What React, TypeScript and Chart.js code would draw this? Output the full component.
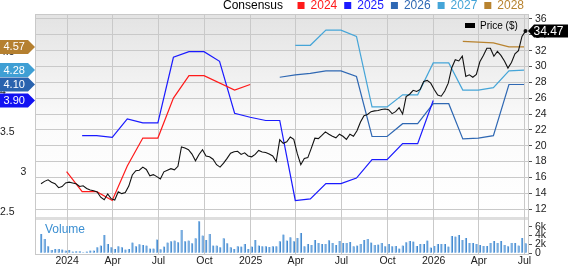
import React, { useEffect, useRef } from 'react';
import { Chart, registerables } from 'chart.js';

Chart.register(...registerables);

const FONT = '"Liberation Sans", Arial, Helvetica, sans-serif';

// ---------- axes ----------
const xRange = ['2023-10-29', '2026-07-08'];
const xTickDates = ['2024-01-01', '2024-04-01', '2024-07-01', '2024-10-01', '2025-01-01', '2025-04-01', '2025-07-01', '2025-10-01', '2026-01-01', '2026-04-01', '2026-07-01'];
const xTickLabels = ['2024', 'Apr', 'Jul', 'Oct', '2025', 'Apr', 'Jul', 'Oct', '2026', 'Apr', 'Jul'];
const priceTicks = [12, 14, 16, 18, 20, 22, 24, 26, 28, 30, 32, 34, 36];
const epsTicks = [2.5, 3, 3.5, 4, 4.5];
const volTicks = [0, 2, 4, 6];
const volTickLabels = ['0', '2k', '4k', '6k'];

// ---------- consensus EPS series ----------
const legendYears = ['2024', '2025', '2026', '2027', '2028'];
const epsColors = ['#ff1a1a', '#1a1aff', '#2f68b3', '#45a5d8', '#b8832f'];
const tagColors = ['#ff1a1a', '#1212f2', '#2a63ae', '#3f9fd4', '#b58030'];

const eps2024Dates = ['2023-12-31', '2024-01-31', '2024-02-29', '2024-03-31', '2024-04-30', '2024-05-31', '2024-06-30', '2024-07-31', '2024-08-31', '2024-09-30', '2024-11-30', '2024-12-31'];
const eps2024 = [3.01, 2.76, 2.76, 2.65, 3.08, 3.43, 3.43, 3.93, 4.21, 4.21, 4.03, 4.10];

const eps2025Dates = ['2024-01-31', '2024-02-29', '2024-03-31', '2024-04-30', '2024-05-31', '2024-06-30', '2024-07-31', '2024-08-31', '2024-09-30', '2024-10-31', '2024-11-30', '2024-12-31', '2025-01-31', '2025-02-28', '2025-03-31', '2025-04-30', '2025-05-31', '2025-06-30', '2025-07-31', '2025-08-31', '2025-09-30', '2025-10-31', '2025-11-30', '2025-12-31'];
const eps2025 = [3.46, 3.46, 3.44, 3.67, 3.62, 3.62, 4.44, 4.51, 4.51, 4.39, 3.74, 3.69, 3.65, 3.65, 2.65, 2.67, 2.86, 2.86, 2.93, 3.16, 3.16, 3.36, 3.36, 3.90];

const eps2026Dates = ['2025-02-28', '2025-03-31', '2025-04-30', '2025-05-31', '2025-06-30', '2025-07-31', '2025-08-31', '2025-09-30', '2025-10-31', '2025-11-30', '2025-12-31', '2026-01-31', '2026-02-28', '2026-03-31', '2026-04-30', '2026-05-31', '2026-06-30'];
const eps2026 = [4.19, 4.22, 4.24, 4.27, 4.27, 4.20, 3.45, 3.45, 3.61, 3.61, 3.86, 3.86, 3.42, 3.43, 3.46, 4.10, 4.10];

const eps2027Dates = ['2025-03-31', '2025-04-30', '2025-05-31', '2025-06-30', '2025-07-31', '2025-08-31', '2025-09-30', '2025-10-31', '2025-11-30', '2025-12-31', '2026-01-31', '2026-02-28', '2026-03-31', '2026-04-30', '2026-05-31', '2026-06-30'];
const eps2027 = [4.59, 4.59, 4.78, 4.78, 4.70, 3.82, 3.82, 3.97, 3.97, 4.37, 4.37, 4.03, 4.03, 4.06, 4.27, 4.28];

const eps2028Dates = ['2026-02-28', '2026-03-31', '2026-04-30', '2026-05-31', '2026-06-30'];
const eps2028 = [4.64, 4.63, 4.62, 4.57, 4.57];

// ---------- weekly price ($) and volume (thousands) ----------
const priceStart = '2023-11-10';
const price = [
  15.2, 15.5, 15.7, 15.38, 15.2, 14.7, 14.85, 15.3, 15.4, 15.3,
  15.2, 14.85, 14.95, 14.6, 14.42, 14.32, 14.15, 13.5, 13.18, 13.9,
  13.3, 13.15, 14.2, 13.95, 14.1, 14.9, 16.3, 16.85, 16.9, 17.3,
  17.0, 16.2, 16.35, 16.1, 15.8, 16.7, 16.9, 17.1, 16.95, 17.4,
  19.85, 19.7, 19.5, 18.95, 18.1, 18.9, 19.5, 18.7, 18.6, 18.3,
  17.6, 17.3, 17.8, 18.4, 19.05, 19.25, 19.3, 18.9, 19.1, 18.7,
  18.6, 18.9, 19.4, 19.2, 19.15, 18.95, 18.7, 18.0, 20.75, 20.3,
  20.5, 21.1, 20.8, 19.0, 17.6, 18.4, 18.5, 19.7, 20.95, 20.9,
  21.3, 21.75, 21.45, 21.2, 21.0, 21.45, 21.2, 20.8, 21.45, 21.2,
  21.9, 23.0, 23.8, 23.95, 24.3, 24.4, 24.45, 24.58, 24.64, 24.55,
  24.05, 24.3, 24.8, 24.0, 26.2, 26.5, 27.0, 26.85, 27.1, 28.1,
  28.25, 27.9, 27.1, 26.4, 26.25, 26.9, 27.9, 29.85, 30.85, 30.7,
  31.3, 28.75, 28.95, 28.65, 29.0, 30.6, 31.4, 32.3, 32.3, 31.3,
  31.9, 31.4, 30.7, 29.8, 30.5, 31.6, 32.0, 33.8, 34.47,
];
const volume = [
  4.35, 3.23, 1.58, 0.75, 0.98, 0.98, 0.83, 0.6, 0.75, 0.38,
  0.45, 0.45, 0.23, 0.38, 0.6, 0.6, 1.35, 1.73, 4.13, 2.1,
  1.35, 0.98, 1.58, 1.35, 0.83, 0.98, 2.4, 1.58, 2.03, 1.88,
  1.73, 1.05, 1.05, 3.08, 0.9, 1.5, 2.4, 2.7, 2.85, 2.48,
  5.25, 2.7, 2.85, 2.25, 3.38, 7.2, 3.98, 3.0, 4.35, 1.73,
  1.73, 1.35, 3.38, 2.25, 1.35, 0.98, 1.58, 1.5, 2.1, 0.98,
  1.5, 3.0, 1.73, 1.58, 1.58, 1.43, 1.58, 1.58, 2.7, 4.2,
  2.85, 3.6, 2.7, 3.45, 4.58, 1.58, 2.1, 1.88, 3.0, 2.33,
  2.1, 2.1, 2.93, 2.33, 1.88, 2.78, 2.33, 2.33, 2.55, 1.58,
  1.73, 2.1, 3.0, 3.23, 2.4, 1.88, 1.95, 2.33, 1.58, 2.1,
  1.58, 1.65, 1.05, 1.73, 2.48, 2.78, 2.63, 1.65, 2.1, 2.1,
  2.85, 1.28, 1.65, 2.1, 2.1, 2.1, 1.5, 3.9, 3.75, 4.13,
  3.0, 3.45, 2.33, 2.33, 2.1, 1.88, 1.65, 1.65, 2.33, 2.78,
  2.33, 2.78, 1.88, 1.58, 2.33, 2.33, 1.73, 3.45, 2.25,
];

// ---------- helpers ----------
const DAY0 = Date.UTC(2024, 0, 1);
const toDay = (s: string) => {
  const [y, m, d] = s.split('-').map(Number);
  return (Date.UTC(y, m - 1, d) - DAY0) / 86400000;
};
const pts = (dates: string[], vals: number[]) => vals.map((v, i) => ({ x: toDay(dates[i]), y: v }));
const weekDays = price.map((_, i) => toDay(priceStart) + 7 * i);

const epsSeries = [
  { label: '2024', dates: eps2024Dates, vals: eps2024 },
  { label: '2025', dates: eps2025Dates, vals: eps2025 },
  { label: '2026', dates: eps2026Dates, vals: eps2026 },
  { label: '2027', dates: eps2027Dates, vals: eps2027 },
  { label: '2028', dates: eps2028Dates, vals: eps2028 },
];

const GRID = '#c9c9c9';
const VOL_PANEL = 37; // px height of volume panel incl. separator

const panelPlugin = {
  id: 'zpanels',
  beforeDraw(chart: any) {
    const { ctx, chartArea: a } = chart;
    const mainBottom = a.bottom - VOL_PANEL;
    ctx.save();
    ctx.fillStyle = '#ffffff';
    ctx.fillRect(a.left, a.top, a.right - a.left, a.bottom - a.top);
    const g = ctx.createLinearGradient(0, a.top, 0, mainBottom);
    g.addColorStop(0, '#e3e3e3');
    g.addColorStop(0.55, '#fbfbfb');
    g.addColorStop(1, '#ffffff');
    ctx.fillStyle = g;
    ctx.fillRect(a.left, a.top, a.right - a.left, mainBottom - a.top);
    ctx.fillStyle = '#dedede';
    ctx.fillRect(a.left, mainBottom, a.right - a.left, 3);
    ctx.restore();
  },
  afterDraw(chart: any) {
    const { ctx, chartArea: a, scales } = chart;
    ctx.save();
    // top border
    ctx.strokeStyle = GRID;
    ctx.lineWidth = 1;
    ctx.beginPath();
    ctx.moveTo(a.left, a.top + 0.5);
    ctx.lineTo(a.right, a.top + 0.5);
    ctx.stroke();

    // volume axis labels
    ctx.textBaseline = 'middle';
    ctx.textAlign = 'left';
    ctx.font = `10.5px ${FONT}`;
    ctx.fillStyle = '#222';
    volTicks.forEach((v, i) => {
      ctx.fillText(volTickLabels[i], a.right + 7, scales.yVol.getPixelForValue(v));
    });

    // consensus legend
    ctx.font = `12px ${FONT}`;
    let x = 223;
    const ly = 5.5;
    ctx.fillStyle = '#000';
    ctx.fillText('Consensus', x, ly);
    x += ctx.measureText('Consensus').width + 14.5;
    legendYears.forEach((yr, i) => {
      ctx.fillStyle = epsColors[i];
      ctx.fillRect(x, 2, 7, 7);
      x += 13;
      ctx.fillText(yr, x, ly);
      x += ctx.measureText(yr).width + 7;
    });

    // price legend
    ctx.fillStyle = '#000';
    ctx.fillRect(465, 23, 10, 5);
    ctx.font = `10px ${FONT}`;
    ctx.fillText('Price ($)', 480, 26);

    // volume label
    ctx.font = `12px ${FONT}`;
    ctx.fillStyle = '#3b8fd2';
    ctx.fillText('Volume', 45, 229.5);

    // left EPS tags (latest value of each series)
    const yE = scales.yEps;
    const tags = epsSeries
      .map((s, i) => ({ v: s.vals[s.vals.length - 1], c: tagColors[i], end: toDay(s.dates[s.dates.length - 1]) }))
      .filter((t) => t.end > toDay('2025-06-01'))
      .map((t) => ({ ...t, y: yE.getPixelForValue(t.v) }))
      .sort((p, q) => p.y - q.y);
    const H = 14;
    for (let i = 1; i < tags.length; i++) {
      if (tags[i].y - tags[i - 1].y < H + 0.5) tags[i].y = tags[i - 1].y + H + 0.5;
    }
    ctx.font = `11px ${FONT}`;
    tags.forEach((t) => {
      ctx.fillStyle = t.c;
      ctx.beginPath();
      ctx.moveTo(0, t.y - H / 2);
      ctx.lineTo(28, t.y - H / 2);
      ctx.lineTo(35, t.y);
      ctx.lineTo(28, t.y + H / 2);
      ctx.lineTo(0, t.y + H / 2);
      ctx.closePath();
      ctx.fill();
      ctx.fillStyle = '#fff';
      ctx.fillText(t.v.toFixed(2), 3.5, t.y + 0.5);
    });

    // right price tag
    const last = price[price.length - 1];
    const py = scales.yPrice.getPixelForValue(last);
    ctx.fillStyle = '#000';
    ctx.beginPath();
    ctx.moveTo(a.right, py);
    ctx.lineTo(a.right + 6, py - 6.5);
    ctx.lineTo(568, py - 6.5);
    ctx.lineTo(568, py + 6.5);
    ctx.lineTo(a.right + 6, py + 6.5);
    ctx.closePath();
    ctx.fill();
    ctx.fillStyle = '#fff';
    ctx.font = `12px ${FONT}`;
    ctx.fillText(last.toFixed(2), 533.5, py + 0.5);
    ctx.restore();
  },
};

export default function App() {
  const ref = useRef<HTMLCanvasElement>(null);

  useEffect(() => {
    const canvas = ref.current;
    if (!canvas) return;
    Chart.defaults.font.family = FONT;
    Chart.defaults.color = '#222';

    const lineDs = (s: { label: string; dates: string[]; vals: number[] }, i: number) => ({
      type: 'line' as const,
      label: s.label,
      data: pts(s.dates, s.vals),
      yAxisID: 'yEps',
      borderColor: epsColors[i],
      borderWidth: 1.2,
      pointRadius: 0,
      tension: 0,
      fill: false,
    });

    const chart = new Chart(canvas, {
      type: 'line',
      data: {
        datasets: [
          {
            type: 'line',
            label: 'Price ($)',
            data: price.map((v, i) => ({ x: weekDays[i], y: v })),
            yAxisID: 'yPrice',
            borderColor: '#111',
            borderWidth: 1.1,
            pointRadius: price.map((_, i) => (i === price.length - 1 ? 2 : 0)),
            pointBackgroundColor: '#111',
            pointBorderWidth: 0,
            tension: 0,
            fill: false,
          },
          ...epsSeries.map(lineDs),
          {
            type: 'bar',
            label: 'Volume',
            data: volume.map((v, i) => ({ x: weekDays[i], y: v })),
            yAxisID: 'yVol',
            backgroundColor: '#86b8e6',
            borderColor: '#3f84cc',
            borderWidth: { top: 0, right: 1, bottom: 0, left: 0 },
            borderSkipped: false,
            barThickness: 2,
          } as any,
        ],
      },
      options: {
        responsive: false,
        maintainAspectRatio: false,
        devicePixelRatio: 1,
        animation: false,
        events: [],
        layout: { padding: { top: 14, left: 0, right: 0, bottom: 0 } },
        plugins: { legend: { display: false }, tooltip: { enabled: false } },
        scales: {
          x: {
            type: 'linear',
            min: toDay(xRange[0]),
            max: toDay(xRange[1]),
            offset: false,
            afterBuildTicks: (s: any) => {
              s.ticks = xTickDates.map((d) => ({ value: toDay(d) }));
            },
            afterFit: (s: any) => {
              s.height = 12;
            },
            grid: { color: GRID, drawTicks: false, offset: false },
            border: { display: true, color: GRID },
            ticks: {
              autoSkip: false,
              maxRotation: 0,
              padding: 1,
              font: { size: 10.5 },
              color: '#222',
              callback: (_v: any, i: number) => xTickLabels[i],
            },
          },
          yEps: {
            type: 'linear',
            position: 'left',
            min: 1.981,
            max: 4.981,
            afterBuildTicks: (s: any) => {
              s.ticks = epsTicks.map((v) => ({ value: v }));
            },
            afterFit: (s: any) => {
              s.width = 35;
            },
            grid: { display: false, drawTicks: false },
            border: { display: true, color: GRID },
            ticks: {
              crossAlign: 'far',
              padding: 0,
              font: { size: 10.5 },
              color: '#222',
              callback: (v: any) => (v === 3 ? '       3' : String(v)),
            },
          },
          yPrice: {
            type: 'linear',
            position: 'right',
            weight: 1,
            min: 6.33,
            max: 36.63,
            afterBuildTicks: (s: any) => {
              s.ticks = priceTicks.map((v) => ({ value: v }));
            },
            afterFit: (s: any) => {
              s.width = 40;
            },
            grid: { color: GRID, tickColor: '#555', tickLength: 4, drawTicks: true },
            border: { display: true, color: GRID },
            ticks: { padding: 3, font: { size: 10.5 }, color: '#222', callback: (v: any) => String(v) },
          },
          yVol: {
            type: 'linear',
            position: 'right',
            weight: 0,
            min: -0.16,
            max: 53.84,
            afterBuildTicks: (s: any) => {
              s.ticks = volTicks.map((v) => ({ value: v }));
            },
            afterFit: (s: any) => {
              s.width = 0;
            },
            grid: { drawOnChartArea: false, drawTicks: true, tickLength: 4, tickColor: '#555' },
            border: { display: false },
            ticks: { display: false },
          },
        },
      } as any,
      plugins: [panelPlugin],
    });

    return () => chart.destroy();
  }, []);

  return (
    <div style={{ position: 'fixed', left: 0, top: 0, width: 568, height: 266, background: '#fff' }}>
      <canvas ref={ref} width={568} height={266} style={{ display: 'block', width: 568, height: 266 }} />
    </div>
  );
}
